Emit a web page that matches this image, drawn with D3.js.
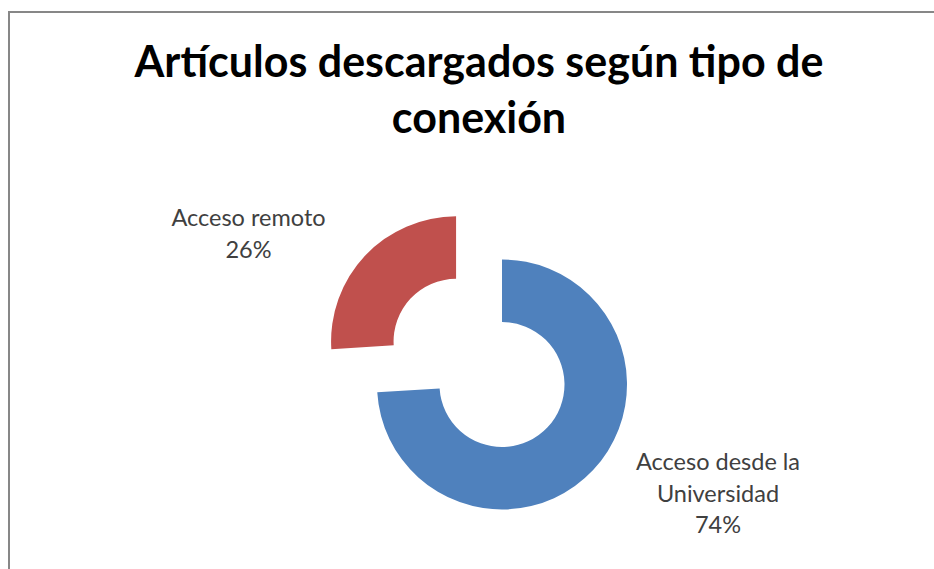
<!DOCTYPE html>
<html>
<head>
<meta charset="utf-8">
<script src="https://cdn.jsdelivr.net/npm/d3@7"></script>
<style>
  body { margin: 0; background: #fff; }
  svg { display: block; }
</style>
</head>
<body>
<div id="chart"></div>
<script>
// datos del gráfico
var categories = ['Acceso desde la Universidad', 'Acceso remoto'];
var values = [74, 26];
var labelLines = [['Acceso desde la', 'Universidad', '74%'], ['Acceso remoto', '26%']];
var titleLines = ['Artículos descargados según tipo de', 'conexión'];

var width = 934, height = 569;
var cx = 502, cy = 384.5,
    outerR = 125, innerR = 62.5,
    explode = [0, 63];
var colors = d3.scaleOrdinal().domain(categories).range(['#4f81bd', '#c0504d']);

var svg = d3.select('#chart').append('svg')
  .attr('width', width)
  .attr('height', height);

// marco del área del gráfico
svg.append('rect')
  .attr('x', 9).attr('y', 12)
  .attr('width', 1200).attr('height', 1200)
  .attr('fill', 'none')
  .attr('stroke', '#878787')
  .attr('stroke-width', 2);

// título
svg.append('g').selectAll('text')
  .data(titleLines)
  .enter().append('text')
  .attr('x', 479)
  .attr('y', function (d, i) { return 77 + i * 56; })
  .attr('text-anchor', 'middle')
  .attr('font-family', 'Lato, sans-serif')
  .attr('font-weight', 'bold')
  .attr('font-size', 43)
  .attr('fill', '#000')
  .text(function (d) { return d; });

var pie = d3.pie().sort(null).value(function (d) { return d; });
var arc = d3.arc().innerRadius(innerR).outerRadius(outerR);
var arcs = pie(values);

var g = svg.append('g').attr('transform', 'translate(' + cx + ',' + cy + ')');

g.selectAll('path')
  .data(arcs)
  .enter().append('path')
  .attr('d', arc)
  .attr('fill', function (d, i) { return colors(categories[i]); })
  .attr('transform', function (d, i) {
    var a = (d.startAngle + d.endAngle) / 2;
    return 'translate(' + (Math.sin(a) * explode[i]) + ',' + (-Math.cos(a) * explode[i]) + ')';
  });

// etiquetas de datos
var labelPos = [[718, 470], [248.5, 226]];
var labels = svg.append('g');
arcs.forEach(function (d, i) {
  labels.append('g').selectAll('text')
    .data(labelLines[i])
    .enter().append('text')
    .attr('x', labelPos[i][0])
    .attr('y', function (t, j) { return labelPos[i][1] + j * 31.5; })
    .attr('text-anchor', 'middle')
    .attr('font-family', 'Lato, sans-serif')
    .attr('font-size', 23.5)
    .attr('fill', '#404040')
    .text(function (t) { return t; });
});
</script>
</body>
</html>
